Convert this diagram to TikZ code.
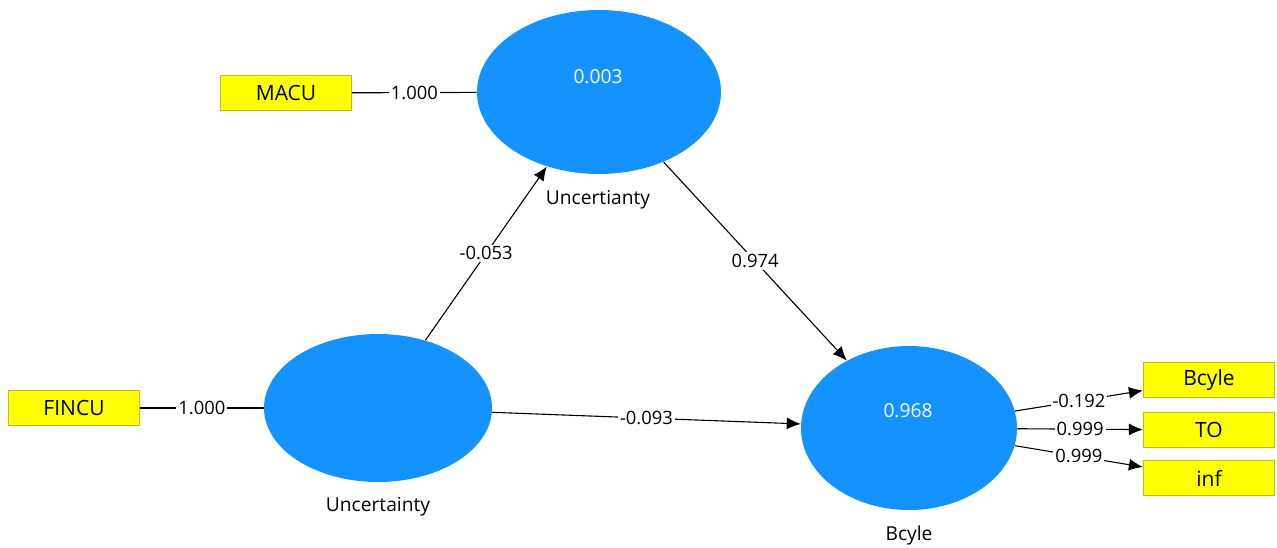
\documentclass[tikz,border=0pt]{standalone}
\usepackage{fontspec}
\setmainfont{Open Sans}
\usetikzlibrary{shapes.geometric}
\usetikzlibrary{arrows.meta}

\definecolor{lvblue}{RGB}{20,146,255}
\definecolor{mvyellow}{RGB}{255,255,0}
\definecolor{mvedge}{RGB}{190,190,20}

\begin{document}
\begin{tikzpicture}[x=0.5pt,y=-0.5pt,font=\fontsize{9.2}{10}\selectfont,
    latent/.style={ellipse,fill=lvblue,inner sep=0pt},
    manifest/.style={rectangle,fill=mvyellow,draw=mvedge,line width=0.6pt,minimum width=65.5pt,minimum height=17.5pt,inner sep=0pt,font=\fontsize{10.5}{12}\selectfont},
    lvname/.style={font=\fontsize{9.6}{11}\selectfont},
    coef/.style={fill=white,inner sep=1pt},
    path/.style={draw,line width=0.55pt,-{Latex[length=7pt,width=6pt]}}]
    \useasboundingbox (0,0) rectangle (1277,547);

    % latente Variablen
    \node[latent,minimum width=122pt,minimum height=82pt] (macro) at (599,92) {};
    \node[latent,minimum width=114pt,minimum height=74pt] (fin) at (378,408) {};
    \node[latent,minimum width=108pt,minimum height=82pt] (cycle) at (909,428) {};

    \node[white,lvname] (r2macro) at (598,77) {0.003};
    \node[white,lvname] (r2cycle) at (908,411) {0.968};
    \node[lvname] (lbmacro) at (598,200) {Uncertianty};
    \node[lvname] (lbfin) at (378,507) {Uncertainty};
    \node[lvname] (lbcycle) at (909,535) {Bcyle};

    % Indikatoren
    \node[manifest] (macu) at (286,93) {MACU};
    \node[manifest] (fincu) at (74,408) {FINCU};
    \node[manifest] (bcyle) at (1209,380) {Bcyle};
    \node[manifest] (to) at (1209,430) {TO};
    \node[manifest] (inf) at (1209,478) {inf};

    % Ladungen
    \draw[line width=0.55pt] (macu) -- node[coef] {1.000} (macro);
    \draw[line width=0.55pt] (fincu) -- node[coef] {1.000} (fin);
    \draw[path] (cycle) -- node[coef] {-0.192} (bcyle);
    \draw[path] (cycle) -- node[coef] {0.999} (to);
    \draw[path] (cycle) -- node[coef] {0.999} (inf);

    % Pfade
    \draw[path] (fin) -- node[coef] {-0.053} (macro);
    \draw[path] (macro) -- node[coef] {0.974} (cycle);
    \draw[path] (fin) -- node[coef] {-0.093} (cycle);
\end{tikzpicture}
\end{document}
